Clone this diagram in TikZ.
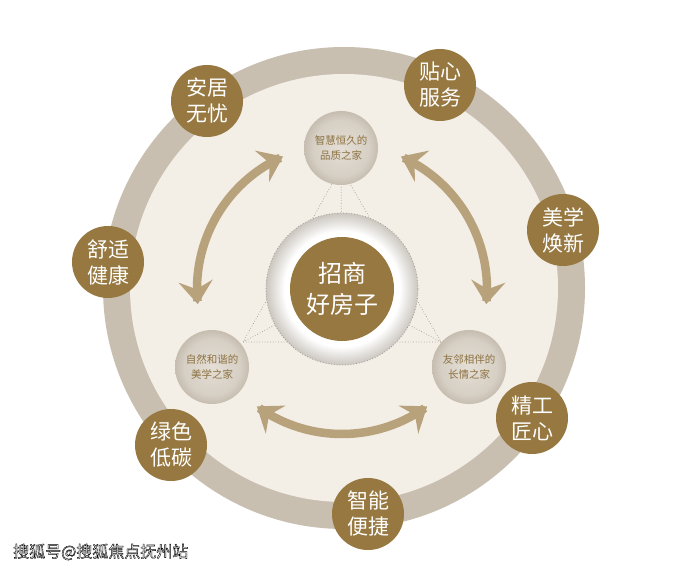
\documentclass[tikz,border=0pt]{standalone}
\usepackage{fontspec}
\newfontfamily\cjk{Noto Sans CJK SC}
\usetikzlibrary{arrows.meta,shadings}
\definecolor{brownc}{HTML}{967840}
\definecolor{ringc}{HTML}{C9BFB1}
\definecolor{creamc}{HTML}{F3EEE6}
\definecolor{arrowc}{HTML}{B8A27C}
\definecolor{inlight}{HTML}{E4DED5}
\definecolor{indark}{HTML}{C6BDB0}
\definecolor{intext}{HTML}{8C7241}
\definecolor{dotc}{HTML}{A39B90}
\definecolor{ringgray}{HTML}{CBC6BF}
\pgfdeclareradialshading{innershade}{\pgfpoint{0bp}{0bp}}{color(0bp)=(inlight); color(19bp)=(inlight!55!indark); color(25bp)=(indark); color(50bp)=(indark)}
\pgfdeclareradialshading{centershade}{\pgfpoint{0bp}{0bp}}{color(0bp)=(white); color(19bp)=(white); color(25bp)=(ringgray); color(50bp)=(ringgray)}
\newcommand{\outlinedtext}[1]{\special{pdf:code 0 G 2 Tr 0.4 w}#1\special{pdf:code 0 Tr}}
\begin{document}
\begin{tikzpicture}[x=1pt,y=-1pt,
  outer/.style={circle, fill=brownc, minimum size=72pt, inner sep=0pt, text=white, align=center, font=\cjk\fontsize{21}{26}\selectfont},
  innerc/.style={circle, shading=innershade, minimum size=74pt, inner sep=0pt, text=intext, align=center, font=\cjk\fontsize{10.5}{15}\selectfont},
  dotline/.style={dotc, dotted, line width=0.7pt},
  twoway/.style={arrowc, line width=8.5pt, {Stealth[length=23pt,width=34pt,inset=8pt]}-{Stealth[length=23pt,width=34pt,inset=8pt]}},
  wmark/.style={font=\cjk\fontsize{16}{18}\selectfont, inner sep=0pt}
]
\useasboundingbox (0,0) rectangle (693,569);
\fill[white] (0,0) rectangle (693,569);
% big ring
\node[circle, fill=ringc, minimum size=482pt, inner sep=0pt] (ring) at (344,288) {};
\node[circle, fill=creamc, minimum size=428pt, inner sep=0pt] (field) at (344,288) {};
% dotted triangle
\coordinate (ta) at (341,168);
\coordinate (tl) at (243,342);
\coordinate (tr) at (441,342);
\coordinate (cc) at (342,289);
\draw[dotline] (ta) -- (tl) -- (tr) -- cycle;
\draw[dotline] (ta) -- (cc);
\draw[dotline] (tl) -- (cc);
\draw[dotline] (tr) -- (cc);
% arrows
\draw[twoway] plot[domain=114:186, samples=60] ({342+145*cos(\x)}, {289-145*sin(\x)});
\draw[twoway] plot[domain=-6:66, samples=60] ({342+145*cos(\x)}, {289-145*sin(\x)});
\draw[twoway] plot[domain=234:306, samples=60] ({342+145*cos(\x)}, {289-145*sin(\x)});
% center
\node[circle, shading=centershade, minimum size=152pt, inner sep=0pt, draw=dotc, dotted, line width=0.8pt] (hub) at (342,289) {};
\node[circle, fill=brownc, minimum size=104pt, inner sep=0pt, text=white, align=center, font=\cjk\fontsize{24}{31}\selectfont] (core) at (342,289) {招商\\好房子};
% inner circles
\node[innerc] (q1) at (341,148) {智慧恒久的\\品质之家};
\node[innerc] (q2) at (212,367) {自然和谐的\\美学之家};
\node[innerc] (q3) at (469,367) {友邻相伴的\\长情之家};
% outer circles
\node[outer] (o1) at (207,101) {安居\\无忧};
\node[outer] (o2) at (440,85) {贴心\\服务};
\node[outer] (o3) at (563,230) {美学\\焕新};
\node[outer] (o4) at (532,418) {精工\\匠心};
\node[outer] (o5) at (368,514) {智能\\便捷};
\node[outer] (o6) at (171,445) {绿色\\低碳};
\node[outer] (o7) at (108,262) {舒适\\健康};
% watermark
\node[wmark, text=white, anchor=west] (wm) at (13,552) {\outlinedtext{搜狐号@搜狐焦点抚州站}};
\end{tikzpicture}
\end{document}
